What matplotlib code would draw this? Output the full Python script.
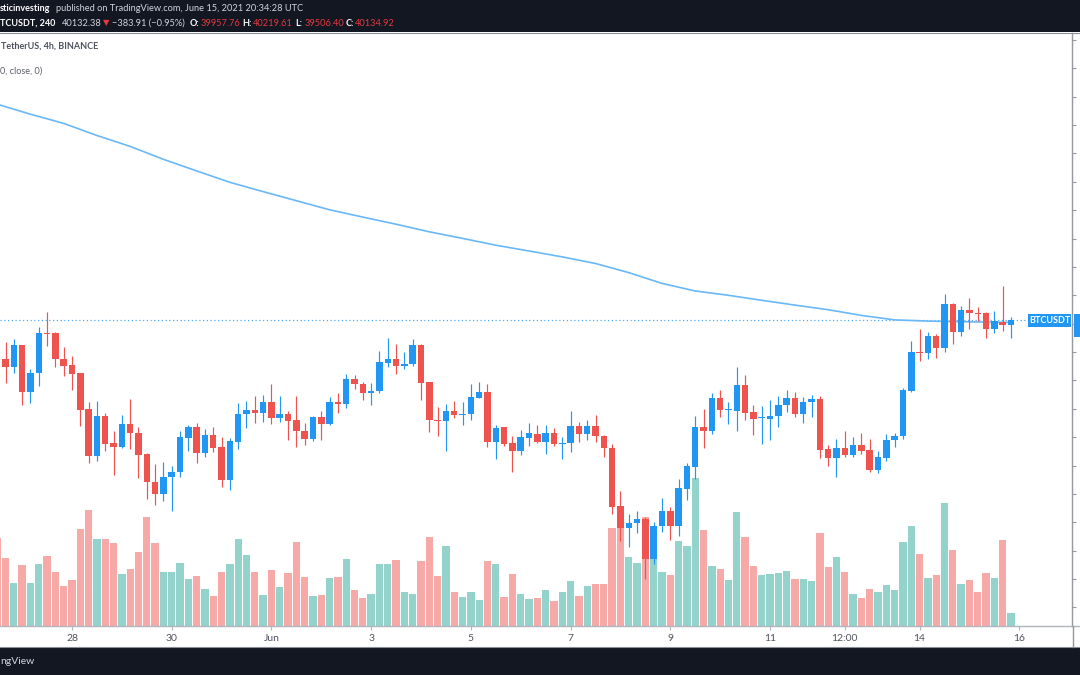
import matplotlib
matplotlib.use("Agg")
import matplotlib.pyplot as plt
from matplotlib.patches import Rectangle
from matplotlib.lines import Line2D
import numpy as np
import pandas as pd

plt.rcParams['font.family'] = ['Lato', 'DejaVu Sans']

# ---------------- data (BTCUSDT 4h, Binance) ----------------
start_time = '2021-05-26 12:00'
opens = [39835, 38742, 38460, 39236, 37603, 38249, 39682, 39659, 38766, 38531,
         38249, 36980, 35347, 36745, 35781, 35640, 36463, 36134, 35394, 34418,
         34007, 34595, 34759, 35970, 36357, 35441, 36063, 35652, 34477, 35829,
         36804, 36956, 36839, 37250, 36686, 36827, 36592, 36228, 35946, 36710,
         36451, 37227, 37180, 38038, 37873, 37544, 37626, 38625, 38766, 38507,
         38566, 39236, 37932, 36604, 36580, 36933, 36792, 36804, 37391, 37579,
         35840, 36346, 35793, 35500, 35981, 36122, 35840, 36146, 35746, 35793,
         36393, 36122, 36393, 36052, 35629, 33561, 32809, 32962, 33114, 31704,
         32856, 33408, 32856, 34172, 34947, 36369, 36228, 37380, 36945, 36933,
         37826, 36886, 36663, 36651, 36733, 37121, 37380, 36804, 37227, 37333,
         35570, 35265, 35605, 35359, 35735, 35547, 34842, 35276, 35899, 36028,
         37626, 39013, 38966, 39553, 39154, 40681, 39694, 40493, 40388, 40364,
         39812, 40059, 39957.76]
highs = [39894, 39353, 39447, 39250, 38390, 39870, 40399, 39706, 39189, 38872,
         38260, 37250, 37274, 36839, 36228, 36780, 37344, 36369, 35429, 35053,
         35112, 34982, 36228, 36416, 36486, 36287, 36357, 35993, 35958, 37203,
         37274, 37462, 37485, 37873, 37438, 36933, 37438, 36486, 36757, 36910,
         37403, 37544, 38225, 38190, 37944, 37908, 39036, 39483, 39271, 38989,
         39459, 39295, 37940, 37062, 37156, 37262, 37250, 37861, 37944, 37861,
         36440, 36350, 36040, 36252, 36486, 36416, 36440, 36310, 35993, 36910,
         36545, 36592, 36780, 36075, 35758, 34090, 33291, 33384, 33173, 32997,
         33843, 33549, 34524, 35076, 36733, 36992, 37544, 37661, 37227, 38472,
         38190, 37145, 37097, 37309, 37438, 37673, 37591, 37415, 37474, 37450,
         35735, 35923, 36228, 36005, 36146, 35934, 35511, 36099, 36146, 37744,
         39389, 39800, 39706, 39636, 41046, 40728, 40611, 40893, 40587, 40399,
         40446, 41328, 40219.61]
lows = [38660, 37896, 38249, 37121, 37191, 37802, 39224, 38484, 38167, 37661,
        36404, 35076, 35159, 35523, 34665, 35605, 35582, 34559, 33807, 33620,
        33749, 33384, 34606, 35523, 35076, 35288, 35476, 34242, 34136, 35582,
        36310, 36486, 36545, 36463, 36545, 35887, 35652, 35711, 35875, 35887,
        36416, 36839, 37039, 37697, 37309, 37145, 37568, 38472, 38237, 38402,
        38507, 37297, 36193, 36052, 35523, 36686, 36440, 36592, 37380, 35652,
        35229, 35699, 34783, 35382, 35688, 35781, 35417, 35688, 35218, 35476,
        35840, 35887, 35840, 35312, 33291, 32339, 32127, 32633, 30999, 31528,
        32644, 32386, 32515, 33796, 34512, 35617, 36099, 36721, 36463, 36228,
        36592, 36075, 35758, 35911, 36357, 36886, 36721, 36498, 36721, 35265,
        34982, 34583, 35288, 35288, 35394, 34783, 34736, 35171, 35664, 35946,
        37603, 38696, 38742, 38790, 39013, 39295, 39565, 39824, 40106, 39506,
        39682, 39753, 39506.40]
closes = [38719, 38460, 39236, 37603, 38272, 39682, 39647, 38742, 38507, 38225,
          36956, 35347, 36745, 35758, 35664, 36463, 36134, 35382, 34407, 34007,
          34606, 34783, 35993, 36357, 35441, 36063, 35629, 34477, 35852, 36827,
          36956, 36839, 37250, 36686, 36827, 36580, 36204, 35946, 36710, 36451,
          37227, 37168, 38038, 37861, 37544, 37638, 38637, 38766, 38507, 38578,
          39236, 37908, 36604, 36580, 36933, 36780, 36827, 37415, 37579, 35840,
          36322, 35770, 35511, 35993, 36134, 35840, 36146, 35746, 35805, 36393,
          36122, 36393, 36028, 35605, 33537, 32809, 32973, 33114, 31704, 32879,
          33408, 32856, 34195, 34982, 36369, 36228, 37380, 36945, 36956, 37826,
          36862, 36651, 36674, 36757, 37145, 37380, 36804, 37239, 37333, 35547,
          35265, 35605, 35370, 35735, 35523, 34842, 35288, 35911, 36052, 37650,
          39001, 38978, 39553, 39154, 40681, 39694, 40493, 40376, 40352, 39812,
          40082, 39958, 40134.92]
volumes = [88, 68, 43.3, 61, 43.3, 62, 70, 53.7, 40.3, 45.7,
           97, 116, 86.7, 87.3, 83.3, 51.7, 56.7, 73.7, 109.3, 83.3,
           54.3, 54.3, 62.7, 47, 50, 37, 30, 53.7, 62, 87,
           70.7, 54, 31.3, 55.7, 38.7, 52.7, 84, 49, 30, 30.7,
           48, 49, 67, 36, 28.3, 32, 62, 62, 66.3, 34.3,
           32.3, 65.3, 89.3, 50, 80, 34.3, 29.3, 34.3, 26, 65,
           62, 29.3, 52, 32.3, 27, 27.7, 35.7, 25.3, 33.7, 44.7,
           30, 39.7, 42, 42, 98.3, 103, 69.3, 62.7, 109, 70,
           54.3, 51, 85, 79.7, 147.7, 96, 59.7, 57.3, 46, 114,
           88.7, 60.3, 51.3, 52, 52.7, 55, 47, 47, 45.3, 93,
           58.7, 68.7, 54.3, 32, 27.7, 37, 34, 41, 35.7, 84,
           99.7, 72, 48.3, 51.3, 122.7, 76, 42.3, 46, 34, 52.7,
           48.3, 85.7, 13.3]
ma_index = [0, 4, 8, 12, 16, 20, 24, 28, 32, 36, 40, 44, 48, 52, 56, 60,
            64, 68, 72, 76, 80, 84, 88, 92, 96, 100, 104, 108, 112, 116, 120, 122]
ma_values = [47736, 47384, 47060, 46633, 46249, 45794, 45385, 44983, 44655, 44335,
             44014, 43757, 43506, 43238, 43006, 42766, 42562, 42354, 42121, 41800,
             41420, 41152, 41000, 40824, 40655, 40492, 40292, 40133, 40091, 40069,
             40052, 40045]
last_price = 40132.38
tick_times = ['2021-05-28 00:00', '2021-05-30 00:00', '2021-06-01 00:00',
              '2021-06-03 00:00', '2021-06-05 00:00', '2021-06-07 00:00',
              '2021-06-09 00:00', '2021-06-11 00:00', '2021-06-12 12:00',
              '2021-06-14 00:00', '2021-06-16 00:00']
tick_labels = ['28', '30', 'Jun', '3', '5', '7', '9', '11', '12:00', '14', '16']

# ---------------- figure ----------------
W, H = 1080, 675
fig = plt.figure(figsize=(10.8, 6.75), dpi=100)
fig.patch.set_facecolor('white')

def fx(px):
    return px / W

def fy(py):
    return 1 - py / H

UP = '#2196f3'
DOWN = '#ef5350'
VUP = '#94d3cc'
VDOWN = '#f7a9a8'
GRID_LINE = '#b2b5be'

ax = fig.add_axes([0, fy(626), fx(1072), (626 - 33) / H])
axv = ax.twinx()
ax.set_zorder(axv.get_zorder() + 1)
ax.patch.set_visible(False)

o = np.array(opens, dtype=float)
h = np.array(highs, dtype=float)
l = np.array(lows, dtype=float)
c = np.array(closes, dtype=float)
v = np.array(volumes, dtype=float)
n = len(o)
x = np.arange(n)
up = c >= o
colors = np.where(up, UP, DOWN)
vcolors = np.where(up, VUP, VDOWN)

# volume
axv.bar(x, v, width=0.88, color=vcolors, linewidth=0)
axv.set_ylim(0, 593)
axv.set_yticks([])
for s in axv.spines.values():
    s.set_visible(False)

# MA line
ax.plot(ma_index, ma_values, color='#6ab8f7', lw=1.2, zorder=2,
        solid_capstyle='round', solid_joinstyle='round')

# last price dotted line
ax.axhline(last_price, color='#2196f3', lw=0.9, linestyle=(0, (1, 2)), alpha=0.8, zorder=1)

# candles
ax.vlines(x, l, h, colors=colors, linewidth=0.85, zorder=3)
body_bottom = np.minimum(o, c)
body_h = np.maximum(np.abs(c - o), 32)
ax.bar(x, body_h, bottom=body_bottom, width=0.78, color=colors, linewidth=0, zorder=4)

ax.set_xlim(0.337, 129.34)
ax.set_ylim(29343, 50246)

# axes styling
for side in ('top', 'left'):
    ax.spines[side].set_visible(False)
ax.spines['bottom'].set_color(GRID_LINE)
ax.spines['right'].set_color('#9598a1')
ax.spines['bottom'].set_linewidth(1.0)
ax.spines['right'].set_linewidth(1.0)

ax.yaxis.tick_right()
ax.set_yticks(np.arange(30000, 51000, 1000))
ax.tick_params(axis='y', which='both', right=True, left=False, length=3,
               width=0.8, color='#9598a1', labelright=False, labelleft=False)

t0 = pd.Timestamp(start_time)
dates = pd.date_range(t0, periods=n, freq='4h')
tick_pos = (pd.to_datetime(tick_times, format='%Y-%m-%d %H:%M') - dates[0]) / pd.Timedelta('4h')
ax.set_xticks(np.asarray(tick_pos, dtype=float))
ax.set_xticklabels(tick_labels)
ax.tick_params(axis='x', length=3, width=0.8, color=GRID_LINE, pad=3,
               labelsize=7.5, labelcolor='#50535e')

# extend bottom line and right border
fig.add_artist(Line2D([fx(1072), 1], [fy(626), fy(626)], color=GRID_LINE, lw=1.0,
                      transform=fig.transFigure))
fig.add_artist(Line2D([fx(1072.5), fx(1072.5)], [fy(626), fy(647)], color='#9598a1', lw=1.0,
                      transform=fig.transFigure))

# top dark bar
DARK = '#131722'
fig.add_artist(Rectangle((0, fy(32)), 1, 32 / H, transform=fig.transFigure,
                         facecolor=DARK, edgecolor='none', zorder=0))
fig.add_artist(Line2D([0, 1], [fy(32.5), fy(32.5)], color='#8a8e99', lw=0.8,
                      transform=fig.transFigure))
# bottom dark bar
fig.add_artist(Rectangle((0, 0), 1, (H - 647) / H, transform=fig.transFigure,
                         facecolor=DARK, edgecolor='none', zorder=0))
fig.add_artist(Line2D([0, 1], [fy(647), fy(647)], color='#8a8e99', lw=0.8,
                      transform=fig.transFigure))

LIGHT = '#d1d4dc'
RED = '#e5393f'
fs = 6.7
fsb = 6.5
fig.text(fx(0), fy(8.5), 'sticinvesting', color='white', fontsize=fsb,
         fontweight='bold', va='center', ha='left')
fig.text(fx(56), fy(8.5), 'published on TradingView.com, June 15, 2021 20:34:28 UTC',
         color=LIGHT, fontsize=fs, va='center', ha='left')

segments = [
    (0, 'TCUSDT, 240', 'white', 'bold', fsb),
    (61.5, '40132.38', LIGHT, 'normal', fs),
    (103, '\u25BC', RED, 'normal', 6.0),
    (112.5, '\u2212383.91 (\u22120.95%)', LIGHT, 'normal', fs),
    (189.5, 'O:', 'white', 'bold', fsb),
    (200.5, '39957.76', RED, 'normal', fs),
    (242.5, 'H:', 'white', 'bold', fsb),
    (253, '40219.61', RED, 'normal', fs),
    (295.5, 'L:', 'white', 'bold', fsb),
    (304.5, '39506.40', RED, 'normal', fs),
    (345.5, 'C:', 'white', 'bold', fsb),
    (354.5, '40134.92', RED, 'normal', fs),
]
for px, txt, col, wt, size in segments:
    fig.text(fx(px), fy(23), txt, color=col, fontsize=size, fontweight=wt,
             va='center', ha='left')

# chart legend texts
fig.text(fx(1), fy(46), 'TetherUS, 4h, BINANCE', color='#4c525e', fontsize=6.5,
         fontweight='bold', va='center', ha='left')
fig.text(fx(0), fy(71), '0, close, 0)', color='#5d606b', fontsize=6.6,
         va='center', ha='left')

# BTCUSDT label + price tag
fig.add_artist(Rectangle((fx(1028), fy(327)), fx(43), 13 / H, transform=fig.transFigure,
                         facecolor=UP, edgecolor='none', zorder=5))
fig.text(fx(1049.5), fy(320.5), 'BTCUSDT', color='white', fontsize=6.5,
         fontweight='bold', va='center', ha='center', zorder=6)
fig.add_artist(Rectangle((fx(1073.5), fy(337)), fx(6.5), 23 / H, transform=fig.transFigure,
                         facecolor=UP, edgecolor='none', zorder=5))

# bottom bar text
fig.text(fx(0), fy(661), 'ngView', color=LIGHT, fontsize=7.5, va='center', ha='left')

fig.savefig('out.png', dpi=100, facecolor=fig.get_facecolor())
